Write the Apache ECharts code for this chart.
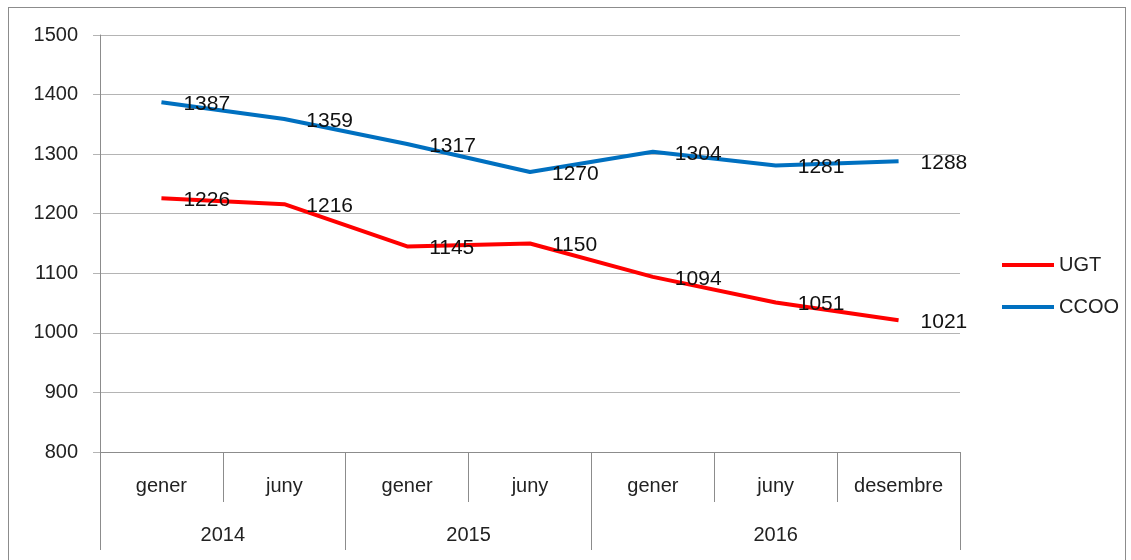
<!DOCTYPE html>
<html>
<head>
<meta charset="utf-8">
<script src="https://cdn.jsdelivr.net/npm/echarts@6/dist/echarts.min.js"></script>
<style>
  html, body { margin: 0; padding: 0; background: #fff; overflow: hidden; }
  #chart { position: absolute; left: 0; top: 0; width: 1131px; height: 560px; }
  .frame { position: absolute; left: 8px; top: 7px; width: 1116px; height: 600px;
           border: 1px solid #8c8c8c; pointer-events: none; }
</style>
</head>
<body>
<div id="chart"></div>
<div class="frame"></div>
<script>
// dades
var months = ['gener', 'juny', 'gener', 'juny', 'gener', 'juny', 'desembre'];
var years = ['2014', '2015', '2016'];
// posició de cada any en mitges categories (centre del grup)
var yearSlots = [2, 6, 11];
// separadors entre anys, en mitges categories
var yearBounds = [0, 4, 8, 14];
var ugt = [1226, 1216, 1145, 1150, 1094, 1051, 1021];
var ccoo = [1387, 1359, 1317, 1270, 1304, 1281, 1288];

var FONT = 'Liberation Sans';
var gridColor = '#b4b4b4';
var axisColor = '#8c8c8c';

// eix dels anys: 15 punts (0, 0.5, 1 ... 7 categories)
var halfSlots = [];
for (var i = 0; i <= months.length * 2; i++) {
  halfSlots.push('s' + i);
}

var chart = echarts.init(document.getElementById('chart'), null, { renderer: 'canvas' });

chart.setOption({
  animation: false,
  grid: { left: 100, right: 171, top: 35, bottom: 108 },
  legend: {
    orient: 'vertical',
    left: 997,
    top: 250,
    itemWidth: 52,
    itemHeight: 4,
    itemGap: 22,
    icon: 'rect',
    textStyle: { fontFamily: FONT, fontSize: 20, color: '#222' },
    data: ['UGT', 'CCOO']
  },
  xAxis: [{
    type: 'category',
    data: months,
    boundaryGap: true,
    axisLine: { show: true, lineStyle: { color: axisColor, width: 1 } },
    axisTick: { show: true, length: 50, interval: 0, lineStyle: { color: axisColor } },
    axisLabel: {
      interval: 0, margin: 24,
      fontFamily: FONT, fontSize: 20, color: '#222'
    },
    splitLine: { show: false }
  }, {
    type: 'category',
    position: 'bottom',
    data: halfSlots,
    boundaryGap: false,
    axisLine: { show: false },
    axisTick: {
      show: true, length: 98,
      interval: function (index) { return yearBounds.indexOf(index) >= 0; },
      lineStyle: { color: axisColor }
    },
    axisLabel: {
      interval: 0, margin: 73,
      showMinLabel: true, showMaxLabel: true,
      fontFamily: FONT, fontSize: 20, color: '#222',
      formatter: function (value, index) {
        var k = yearSlots.indexOf(index);
        return k >= 0 ? years[k] : '';
      }
    },
    splitLine: { show: false }
  }],
  yAxis: {
    type: 'value',
    min: 800,
    max: 1500,
    interval: 100,
    axisLine: { show: true, lineStyle: { color: axisColor } },
    axisTick: { show: true, length: 7, lineStyle: { color: gridColor } },
    axisLabel: {
      margin: 22, fontFamily: FONT, fontSize: 20, color: '#222',
      formatter: function (v) { return String(v); }
    },
    splitLine: { show: true, lineStyle: { color: gridColor, width: 1 } }
  },
  series: [{
    name: 'UGT',
    type: 'line',
    data: ugt,
    symbol: 'circle',
    symbolSize: 0,
    showSymbol: true,
    color: '#ff0000',
    lineStyle: { width: 4, color: '#ff0000' },
    label: {
      show: true, position: 'right', distance: 22, offset: [0, 2],
      fontFamily: FONT, fontSize: 21, color: '#111'
    }
  }, {
    name: 'CCOO',
    type: 'line',
    data: ccoo,
    symbol: 'circle',
    symbolSize: 0,
    showSymbol: true,
    color: '#0070c0',
    lineStyle: { width: 4, color: '#0070c0' },
    label: {
      show: true, position: 'right', distance: 22, offset: [0, 2],
      fontFamily: FONT, fontSize: 21, color: '#111'
    }
  }]
});
</script>
</body>
</html>
